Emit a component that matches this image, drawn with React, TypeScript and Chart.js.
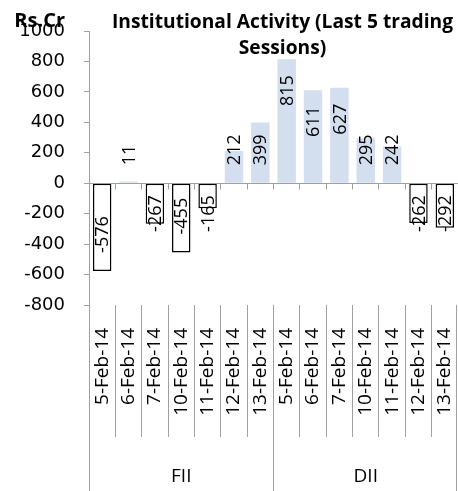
import React, { useEffect, useRef } from "react";
import { Chart, registerables } from "chart.js";

Chart.register(...registerables);

// ---- data ----
const dates = ["5-Feb-14", "6-Feb-14", "7-Feb-14", "10-Feb-14", "11-Feb-14", "12-Feb-14", "13-Feb-14"];
const groupNames = ["FII", "DII"];
const fiiValues = [-576, 11, -267, -455, -165, 212, 399];
const diiValues = [815, 611, 627, 295, 242, -262, -292];
const yMin = -800;
const yMax = 1000;
const yStep = 200;
const titleLines = ["Institutional Activity (Last 5 trading", "Sessions)"];
const unitLabel = "Rs.Cr";

const categories = [...dates, ...dates];
const values = [...fiiValues, ...diiValues];
const groupSizes = [fiiValues.length, diiValues.length];

// ---- styles ----
const AXIS = "#a0a0a0";
const POS_FILL = "#d3deef";
const NEG_FILL = "#ffffff";
const LABEL_FONT = '18px "Open Sans"';
const GROUP_FONT = '19px "Open Sans"';
const TICK_FAMILY = "DejaVu Sans";
const BOLD_FONT = 'bold 20px "Open Sans"';

const align = (p: number) => Math.round(p - 0.5) + 0.5;

const overlayPlugin = {
  id: "overlay",
  afterDraw(chart: any) {
    const ctx = chart.ctx as CanvasRenderingContext2D;
    const xs = chart.scales.x;
    const ys = chart.scales.y;
    const ca = chart.chartArea;
    const H = chart.height;
    const n = categories.length;
    const step = xs.getPixelForValue(1) - xs.getPixelForValue(0);
    const bound = (i: number) =>
      i < n ? xs.getPixelForValue(i) - step / 2 : xs.getPixelForValue(n - 1) + step / 2;
    const zeroY = ys.getPixelForValue(0);

    ctx.save();
    ctx.strokeStyle = AXIS;
    ctx.lineWidth = 1;

    // zero line
    ctx.beginPath();
    ctx.moveTo(ca.left, align(zeroY));
    ctx.lineTo(ca.right, align(zeroY));
    ctx.stroke();

    // tick marks on zero line
    for (let i = 1; i <= n; i++) {
      const bx = align(bound(i));
      ctx.beginPath();
      ctx.moveTo(bx, align(zeroY));
      ctx.lineTo(bx, align(zeroY) + 6);
      ctx.stroke();
    }

    // group boundaries
    const groupBounds: number[] = [0];
    groupSizes.forEach((s) => groupBounds.push(groupBounds[groupBounds.length - 1] + s));

    // separators in the label area
    for (let i = 0; i <= n; i++) {
      const bx = Math.min(align(bound(i)), chart.width - 1.5);
      const isGroup = groupBounds.includes(i);
      ctx.beginPath();
      ctx.moveTo(bx, ca.bottom);
      ctx.lineTo(bx, isGroup ? H : ca.bottom + 132);
      ctx.stroke();
    }
    // y axis extension
    ctx.beginPath();
    ctx.moveTo(align(ca.left), ca.bottom);
    ctx.lineTo(align(ca.left), H);
    ctx.stroke();

    // data labels
    const meta = chart.getDatasetMeta(0);
    ctx.font = LABEL_FONT;
    ctx.fillStyle = "#000";
    ctx.textAlign = "left";
    ctx.textBaseline = "middle";
    meta.data.forEach((bar: any, i: number) => {
      const v = values[i];
      const text = String(v);
      const len = ctx.measureText(text).width;
      let startY: number;
      if (v >= 0) {
        startY = Math.min(bar.y + 16 + len, zeroY - 18);
      } else {
        startY = Math.max(bar.y - 18, zeroY + 12 + len);
      }
      ctx.save();
      ctx.translate(bar.x + 1, startY);
      ctx.rotate(-Math.PI / 2);
      ctx.fillText(text, 0, 0);
      ctx.restore();
    });

    // group labels
    ctx.font = GROUP_FONT;
    ctx.textAlign = "center";
    ctx.textBaseline = "alphabetic";
    groupNames.forEach((g, gi) => {
      const cx = (bound(groupBounds[gi]) + bound(groupBounds[gi + 1])) / 2;
      ctx.fillText(g, cx, 482);
    });

    // title
    ctx.font = BOLD_FONT;
    const w0 = ctx.measureText(titleLines[0]).width;
    const sx = 341 / w0;
    const tcx = 282.5;
    [28, 54].forEach((by, li) => {
      ctx.save();
      ctx.translate(tcx, by);
      ctx.scale(sx, 1);
      ctx.textAlign = "center";
      ctx.fillText(titleLines[li], 0, 0);
      ctx.restore();
    });

    // unit label
    ctx.textAlign = "right";
    ctx.fillText(unitLabel, 65, 27);

    ctx.restore();
  },
};

export default function App() {
  const ref = useRef<HTMLCanvasElement | null>(null);

  useEffect(() => {
    if (!ref.current) return;
    const chart = new Chart(ref.current, {
      type: "bar",
      data: {
        labels: categories,
        datasets: [
          {
            data: values,
            backgroundColor: values.map((v) => (v >= 0 ? POS_FILL : NEG_FILL)),
            borderColor: values.map((v) => (v >= 0 ? "rgba(0,0,0,0)" : "#000000")),
            borderWidth: values.map((v) => (v >= 0 ? 0 : 1.5)),
            borderSkipped: false,
            barPercentage: 0.7,
            categoryPercentage: 1,
          },
        ],
      },
      options: {
        animation: false,
        responsive: false,
        devicePixelRatio: 1,
        layout: { padding: { top: 31, left: 0, right: 0, bottom: 0 } },
        plugins: {
          legend: { display: false },
          tooltip: { enabled: false },
          title: { display: false },
        },
        scales: {
          x: {
            type: "category",
            border: { display: false },
            grid: { display: false, drawTicks: false },
            ticks: {
              autoSkip: false,
              minRotation: 90,
              maxRotation: 90,
              padding: 23,
              color: "#000",
              font: { family: "Open Sans", size: 19 },
            },
            afterFit: (scale: any) => {
              scale.height = 186;
              scale.paddingLeft = 0;
              scale.paddingRight = 0;
            },
          },
          y: {
            min: yMin,
            max: yMax,
            border: { display: true, color: AXIS, width: 1 },
            grid: { drawOnChartArea: false, drawTicks: true, tickLength: 5, color: AXIS },
            ticks: {
              stepSize: yStep,
              padding: 19,
              color: "#000",
              font: { family: TICK_FAMILY, size: 18 },
              callback: (v: any) => String(v),
            },
            afterFit: (scale: any) => {
              scale.width = 89;
            },
          },
        },
      },
      plugins: [overlayPlugin],
    } as any);
    return () => chart.destroy();
  }, []);

  return (
    <div style={{ position: "absolute", left: 0, top: 0, width: 458, height: 491 }}>
      <canvas ref={ref} width={458} height={491} style={{ width: 458, height: 491 }} />
    </div>
  );
}
